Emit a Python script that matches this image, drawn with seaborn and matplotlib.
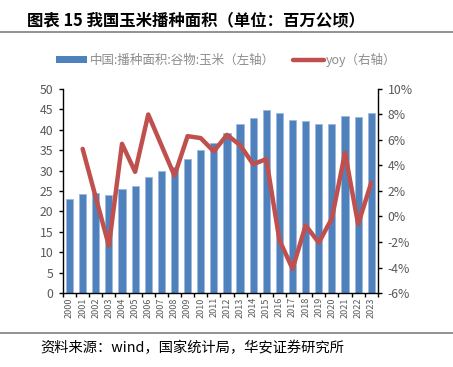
import numpy as np
import pandas as pd
import matplotlib
matplotlib.use("Agg")
import matplotlib.pyplot as plt
import seaborn as sns
from matplotlib.patches import Patch
from matplotlib.lines import Line2D

years = [str(y) for y in range(2000, 2024)]
area = [23.0, 24.2, 24.6, 24.1, 25.4, 26.3, 28.5, 30.0, 30.9, 32.9, 35.0, 36.8,
        39.1, 41.3, 42.9, 44.9, 44.2, 42.4, 42.1, 41.3, 41.3, 43.3, 43.1, 44.2]
yoy = [np.nan, 5.3, 1.5, -2.3, 5.7, 3.5, 8.0, 5.6, 3.2, 6.3, 6.15, 5.1,
       6.4, 5.6, 4.1, 4.5, -1.85, -4.1, -0.7, -2.05, -0.15, 5.0, -0.6, 2.65]
title = "图表 15 我国玉米播种面积（单位：百万公顷）"
bar_label = "中国:播种面积:谷物:玉米（左轴）"
line_label = "yoy（右轴）"
source = "资料来源：wind，国家统计局，华安证券研究所"

sns.set_theme(style="white")
plt.rcParams['font.family'] = ['Noto Sans CJK SC', 'DejaVu Sans']
plt.rcParams['axes.unicode_minus'] = False

df = pd.DataFrame({"year": years, "area": area, "yoy": yoy, "pos": np.arange(len(years))})

fig = plt.figure(figsize=(4.53, 3.67), dpi=100)
ax = fig.add_axes([0.139, 0.2016, 0.695, 0.556])
sns.barplot(data=df, x="year", y="area", color="#4F81BD", saturation=1, width=0.55,
            edgecolor="#9DB9DE", linewidth=0.6, ax=ax)
ax.set_ylim(0, 50)
ax.set_yticks(range(0, 51, 5))
ax.set_xlim(-0.5, len(years) - 0.5)
ax.set_xlabel("")
ax.set_ylabel("")

ax2 = ax.twinx()
sns.lineplot(data=df, x="pos", y="yoy", color="#C0504D", linewidth=3.2, ax=ax2)
ax2.set_ylim(-6, 10)
ax2.set_yticks(range(-6, 11, 2))
ax2.set_yticklabels([f"{v}%" for v in range(-6, 11, 2)])
ax2.set_ylabel("")
ax2.set_xlabel("")
ax2.set_xlim(-0.5, len(years) - 0.5)

for a in (ax, ax2):
    for s in a.spines.values():
        s.set_visible(False)
ax.spines['left'].set_visible(True)
ax.spines['bottom'].set_visible(True)
ax2.spines['right'].set_visible(True)
for s in (ax.spines['left'], ax.spines['bottom'], ax2.spines['right']):
    s.set_color("black")
    s.set_linewidth(1.0)

ax.tick_params(axis='y', direction='out', length=3, width=1, color='black',
               labelsize=8.8, labelcolor='#595959', left=True, pad=4)
ax2.tick_params(axis='y', direction='out', length=3, width=1, color='black',
                labelsize=8.8, labelcolor='#595959', right=True, pad=4)
ax.set_xticks(np.arange(len(years)))
ax.set_xticklabels(years, rotation=90, fontsize=6.5, color='#595959')
ax.tick_params(axis='x', length=0, pad=3)
ax.set_xticks(np.arange(len(years) + 1) - 0.5, minor=True)
ax.tick_params(axis='x', which='minor', direction='out', length=3, width=1,
               color='black', bottom=True)
ax2.tick_params(axis='x', length=0, labelbottom=False)
ax.grid(False)
ax2.grid(False)

handles = [Patch(facecolor="#4F81BD", edgecolor="none"),
           Line2D([0], [0], color="#C0504D", linewidth=3.2)]
leg = fig.legend(handles, [bar_label, line_label], loc='center', ncol=2,
                 bbox_to_anchor=(0.5, 0.837), frameon=False, fontsize=9.0,
                 handlelength=2.5, handleheight=0.45, columnspacing=1.4,
                 handletextpad=0.2)
for t in leg.get_texts():
    t.set_color('#8C8C8C')

fig.text(0.06, 0.945, title, fontsize=11.8, fontweight='bold', va='center', ha='left',
         color='black')
fig.add_artist(Line2D([0, 1], [0.913, 0.913], color='#7F7F7F', linewidth=1.2,
                      transform=fig.transFigure))
fig.add_artist(Line2D([0, 1], [0.093, 0.093], color='#7F7F7F', linewidth=1.2,
                      transform=fig.transFigure))
fig.text(0.088, 0.052, source, fontsize=10.3, va='center', ha='left', color='black')

fig.savefig("out.png", dpi=100)
